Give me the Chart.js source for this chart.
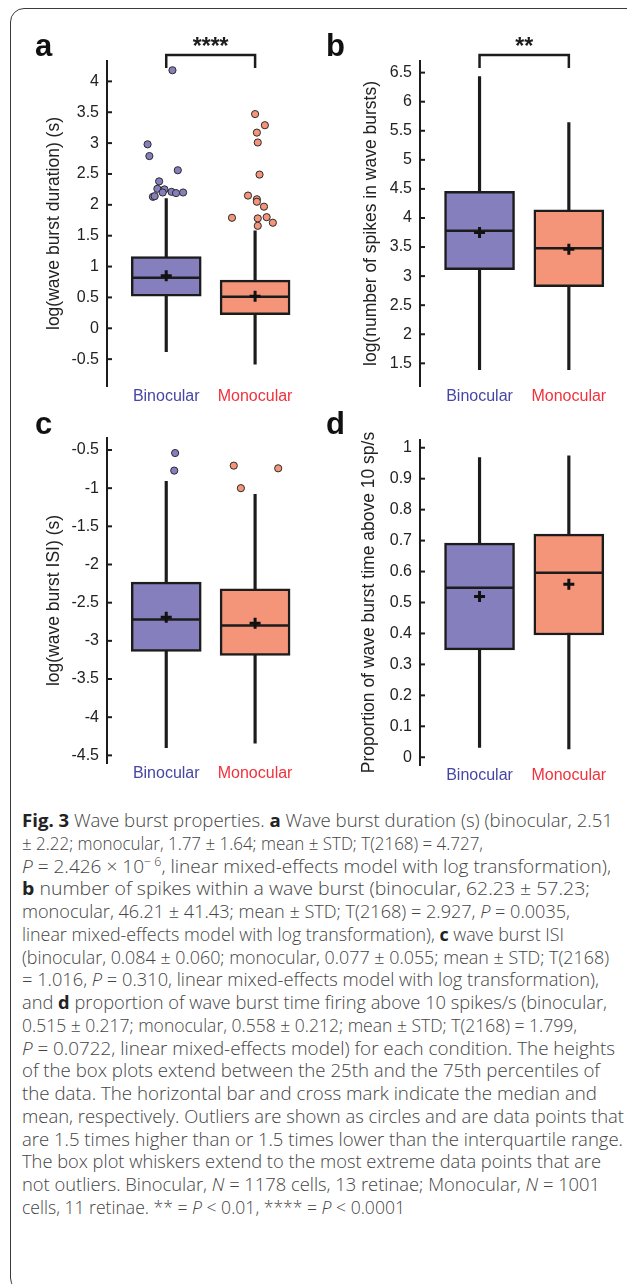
<!DOCTYPE html>
<html>
<head>
<meta charset="utf-8">
<title>Fig. 3 Wave burst properties</title>
<script src="https://cdn.jsdelivr.net/npm/chart.js"></script>
<style>
  body { margin: 0; background: #fff; width: 627px; height: 1284px; overflow: hidden; position: relative; font-family: 'Liberation Sans', Arial, sans-serif; }
  .frame { position: absolute; left: 10px; top: 8px; width: 640px; height: 1284px; border: 1.5px solid #3a3a3a; border-radius: 14px; box-sizing: border-box; }
  .panel { position: absolute; height: 410px; }
  .letter { position: absolute; font: bold 31px 'Liberation Sans', Arial, sans-serif; color: #111; line-height: 1; }
  .caption { position: absolute; left: 22px; top: 809px; font-family: 'Open Sans', sans-serif; font-weight: 300; font-size: 18.4px; line-height: 22.76px; color: #444; white-space: nowrap; }
  .caption span { display: inline-block; transform-origin: 0 50%; }
  .caption b { font-weight: 700; color: #222; }
  .caption sup { font-size: 12px; line-height: 0; }
</style>
</head>
<body>
<div class="frame"></div>

<div class="panel" style="left:0;top:0;width:313px"><canvas id="chartA"></canvas></div>
<div class="panel" style="left:313px;top:0;width:314px"><canvas id="chartB"></canvas></div>
<div class="panel" style="left:0;top:377px;width:313px"><canvas id="chartC"></canvas></div>
<div class="panel" style="left:313px;top:379px;width:314px"><canvas id="chartD"></canvas></div>

<div class="letter" style="left:35px;top:30px">a</div>
<div class="letter" style="left:326px;top:30px">b</div>
<div class="letter" style="left:35px;top:408px">c</div>
<div class="letter" style="left:326px;top:408px">d</div>

<div class="caption" id="caption">
  <div><span><b>Fig. 3</b> Wave burst properties. <b>a</b> Wave burst duration (s) (binocular, 2.51</span></div>
  <div><span>± 2.22; monocular, 1.77 ± 1.64; mean ± STD; T(2168) = 4.727,</span></div>
  <div><span><i>P</i> = 2.426 × 10<sup>− 6</sup>, linear mixed-effects model with log transformation),</span></div>
  <div><span><b>b</b> number of spikes within a wave burst (binocular, 62.23 ± 57.23;</span></div>
  <div><span>monocular, 46.21 ± 41.43; mean ± STD; T(2168) = 2.927, <i>P</i> = 0.0035,</span></div>
  <div><span>linear mixed-effects model with log transformation), <b>c</b> wave burst ISI</span></div>
  <div><span>(binocular, 0.084 ± 0.060; monocular, 0.077 ± 0.055; mean ± STD; T(2168)</span></div>
  <div><span>= 1.016, <i>P</i> = 0.310, linear mixed-effects model with log transformation),</span></div>
  <div><span>and <b>d</b> proportion of wave burst time firing above 10 spikes/s (binocular,</span></div>
  <div><span>0.515 ± 0.217; monocular, 0.558 ± 0.212; mean ± STD; T(2168) = 1.799,</span></div>
  <div><span><i>P</i> = 0.0722, linear mixed-effects model) for each condition. The heights</span></div>
  <div><span>of the box plots extend between the 25th and the 75th percentiles of</span></div>
  <div><span>the data. The horizontal bar and cross mark indicate the median and</span></div>
  <div><span>mean, respectively. Outliers are shown as circles and are data points that</span></div>
  <div><span>are 1.5 times higher than or 1.5 times lower than the interquartile range.</span></div>
  <div><span>The box plot whiskers extend to the most extreme data points that are</span></div>
  <div><span>not outliers. Binocular, <i>N</i> = 1178 cells, 13 retinae; Monocular, <i>N</i> = 1001</span></div>
  <div><span>cells, 11 retinae. ** = <i>P</i> &lt; 0.01, **** = <i>P</i> &lt; 0.0001</span></div>
</div>

<script>
const groups = ['Binocular', 'Monocular'];
const groupTextColors = ['#4646a3', '#f0323c'];
const boxColors = ['#8580bd', '#f4957a'];

// a: log(wave burst duration)
const durTicks = [-0.5, 0, 0.5, 1, 1.5, 2, 2.5, 3, 3.5, 4];
const durQ1 = [0.52, 0.22];
const durMedian = [0.82, 0.51];
const durQ3 = [1.16, 0.78];
const durMean = [0.85, 0.52];
const durWhiskerLow = [-0.38, -0.58];
const durWhiskerHigh = [2.10, 1.58];
const durOutBin = [4.18, 2.98, 2.79, 2.56, 2.38, 2.26, 2.25, 2.21, 2.19, 2.20, 2.13, 2.14, 2.20];
const durOutBinJitter = [0.07, -0.21, -0.19, 0.13, -0.08, -0.10, -0.02, 0.06, 0.11, 0.19, -0.15, -0.13, -0.04];
const durOutMono = [3.47, 3.29, 3.17, 3.01, 2.49, 2.15, 2.09, 2.05, 1.97, 1.79, 1.78, 1.80, 1.71, 1.66];
const durOutMonoJitter = [0, 0.11, 0.02, 0.03, 0.05, -0.08, 0.02, 0.02, 0.10, -0.26, 0.03, 0.13, 0.20, 0.03];

// b: log(number of spikes in wave bursts)
const spkTicks = [1.5, 2, 2.5, 3, 3.5, 4, 4.5, 5, 5.5, 6, 6.5];
const spkQ1 = [3.11, 2.82];
const spkMedian = [3.78, 3.48];
const spkQ3 = [4.46, 4.14];
const spkMean = [3.75, 3.46];
const spkWhiskerLow = [1.39, 1.39];
const spkWhiskerHigh = [6.43, 5.64];

// c: log(wave burst ISI)
const isiTicks = [-4.5, -4, -3.5, -3, -2.5, -2, -1.5, -1, -0.5];
const isiQ1 = [-3.14, -3.19];
const isiMedian = [-2.72, -2.80];
const isiQ3 = [-2.23, -2.32];
const isiMean = [-2.69, -2.77];
const isiWhiskerLow = [-4.40, -4.34];
const isiWhiskerHigh = [-0.91, -1.08];
const isiOutBin = [-0.54, -0.77];
const isiOutBinJitter = [0.10, 0.09];
const isiOutMono = [-0.705, -1.0, -0.74];
const isiOutMonoJitter = [-0.24, -0.16, 0.26];

// d: proportion of time above 10 sp/s
const propTicks = [0, 0.1, 0.2, 0.3, 0.4, 0.5, 0.6, 0.7, 0.8, 0.9, 1];
const propQ1 = [0.347, 0.395];
const propMedian = [0.548, 0.596];
const propQ3 = [0.692, 0.721];
const propMean = [0.519, 0.559];
const propWhiskerLow = [0.032, 0.027];
const propWhiskerHigh = [0.968, 0.974];

const INK = '#1c1c1c';
const FONT = "'Liberation Sans', Arial, sans-serif";

// caption lines: right edge of each line in the original layout
const captionRight = [613, 483, 611, 590, 570, 564, 609, 599, 607, 577, 615, 600, 597, 624, 623, 601, 600, 405];
document.querySelectorAll('#caption span').forEach((s, i) => {
  const w = s.getBoundingClientRect().width;
  s.style.transform = 'scaleX(' + ((captionRight[i] - 22) / w).toFixed(4) + ')';
});

// medians, inward ticks and significance bracket
const boxExtras = {
  id: 'boxExtras',
  afterDatasetDraw(chart, args) {
    const ds = chart.data.datasets[args.index];
    if (!ds.medians) return;
    const ctx = chart.ctx, y = chart.scales.y;
    ctx.save();
    ctx.strokeStyle = INK;
    ctx.lineWidth = 2.5;
    args.meta.data.forEach((bar, i) => {
      const { x, width } = bar.getProps(['x', 'width'], true);
      const py = y.getPixelForValue(ds.medians[i]);
      ctx.beginPath();
      ctx.moveTo(x - width / 2 + 1, py);
      ctx.lineTo(x + width / 2 - 1, py);
      ctx.stroke();
    });
    ctx.restore();
  },
  afterDraw(chart, args, opts) {
    const { ctx, chartArea, scales: { x, y } } = chart;
    ctx.save();
    ctx.strokeStyle = INK;
    ctx.lineWidth = 2;
    y.ticks.forEach(t => {
      const py = y.getPixelForValue(t.value);
      ctx.beginPath();
      ctx.moveTo(chartArea.left, py);
      ctx.lineTo(chartArea.left + 5, py);
      ctx.stroke();
    });
    if (opts.text) {
      const x1 = x.getPixelForValue(1), x2 = x.getPixelForValue(2);
      const top = chartArea.top - 6, foot = chartArea.top + 7;
      ctx.lineWidth = 2.5;
      ctx.beginPath();
      ctx.moveTo(x1, foot); ctx.lineTo(x1, top); ctx.lineTo(x2, top); ctx.lineTo(x2, foot);
      ctx.stroke();
      ctx.fillStyle = INK;
      ctx.font = 'bold 23px ' + FONT;
      ctx.textAlign = 'center';
      ctx.textBaseline = 'middle';
      ctx.fillText(opts.text, (x1 + x2) / 2, top - 7);
    }
    ctx.restore();
  }
};

function boxChart(id, p) {
  const datasets = [
    { type: 'bar', data: groups.map((g, i) => ({ x: i + 1, y: [p.low[i], p.high[i]] })),
      backgroundColor: INK, borderWidth: 0, barThickness: 2.5, maxBarThickness: 2.5, grouped: false, order: 5 },
    { type: 'bar', data: groups.map((g, i) => ({ x: i + 1, y: [p.q1[i], p.q3[i]] })), medians: p.median,
      backgroundColor: boxColors, borderColor: INK, borderWidth: 2.5, borderSkipped: false,
      barThickness: 70, maxBarThickness: 70, grouped: false, order: 4 }
  ];
  (p.outliers || []).forEach((vals, g) => {
    datasets.push({ type: 'scatter', data: vals.map((v, i) => ({ x: g + 1 + p.jitter[g][i], y: v })),
      backgroundColor: boxColors[g], borderColor: '#2a2a2a', borderWidth: 1, pointRadius: 3.6, order: 3 });
  });
  datasets.push({ type: 'scatter', data: p.mean.map((v, i) => ({ x: i + 1, y: v })),
    pointStyle: 'cross', pointRadius: 5.5, borderColor: '#111', borderWidth: 3, order: 1 });

  new Chart(document.getElementById(id), {
    type: 'bar',
    data: { datasets },
    plugins: [boxExtras],
    options: {
      responsive: true, maintainAspectRatio: false, animation: false, events: [],
      layout: { padding: { top: 61, right: p.padRight, bottom: 0, left: 0 } },
      plugins: { legend: { display: false }, tooltip: { enabled: false }, boxExtras: { text: p.sig || '' } },
      scales: {
        x: {
          type: 'linear', min: 1 / 3, max: 2.556, offset: false, bounds: 'data',
          border: { display: false }, grid: { display: false, drawTicks: false, offset: false },
          afterBuildTicks: s => { s.ticks = [1, 2].map(v => ({ value: v })); },
          afterFit: s => { s.height = 24; },
          ticks: { autoSkip: false, maxRotation: 0, padding: 1, font: { family: FONT, size: 16 },
            color: c => groupTextColors[c.index], callback: (v, i) => groups[i] }
        },
        y: {
          min: p.min, max: p.max,
          border: { display: true, width: 2, color: INK },
          grid: { display: false, drawTicks: false },
          afterBuildTicks: s => { s.ticks = p.ticks.map(v => ({ value: v })); },
          afterFit: s => { s.width = 107; },
          ticks: { padding: 8, color: '#222', font: { family: FONT, size: 16 }, callback: v => String(v) },
          title: { display: true, text: p.title, color: '#222', font: { family: FONT, size: 17.5 },
            padding: { top: p.titlePad, bottom: 0 } }
        }
      }
    }
  });
}

boxChart('chartA', { title: 'log(wave burst duration) (s)', ticks: durTicks, min: -0.935, max: 4.33,
  q1: durQ1, median: durMedian, q3: durQ3, mean: durMean, low: durWhiskerLow, high: durWhiskerHigh,
  outliers: [durOutBin, durOutMono], jitter: [durOutBinJitter, durOutMonoJitter],
  sig: '****', padRight: 6, titlePad: 44 });

boxChart('chartB', { title: 'log(number of spikes in wave bursts)', ticks: spkTicks, min: 1.11, max: 6.70,
  q1: spkQ1, median: spkMedian, q3: spkQ3, mean: spkMean, low: spkWhiskerLow, high: spkWhiskerHigh,
  sig: '**', padRight: 7, titlePad: 48 });

boxChart('chartC', { title: 'log(wave burst ISI) (s)', ticks: isiTicks, min: -4.60, max: -0.343,
  q1: isiQ1, median: isiMedian, q3: isiQ3, mean: isiMean, low: isiWhiskerLow, high: isiWhiskerHigh,
  outliers: [isiOutBin, isiOutMono], jitter: [isiOutBinJitter, isiOutMonoJitter],
  padRight: 6, titlePad: 44 });

boxChart('chartD', { title: 'Proportion of wave burst time above 10 sp/s', ticks: propTicks, min: -0.025, max: 1.025,
  q1: propQ1, median: propMedian, q3: propQ3, mean: propMean, low: propWhiskerLow, high: propWhiskerHigh,
  padRight: 7, titlePad: 46 });
</script>
</body>
</html>
